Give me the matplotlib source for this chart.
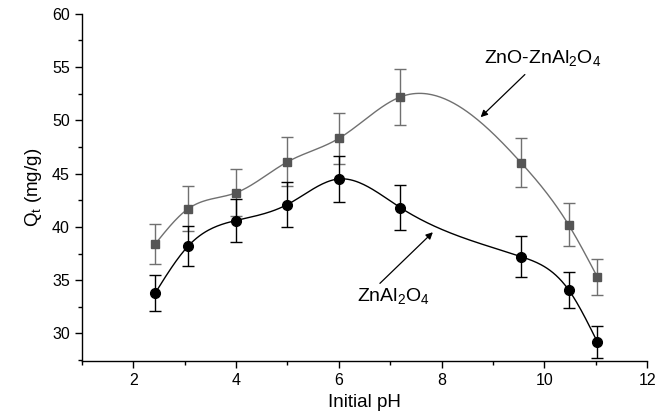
import numpy as np
import matplotlib
matplotlib.use('Agg')
from matplotlib import pyplot as plt

plt.rcParams['font.family'] = ['Liberation Sans', 'DejaVu Sans']
plt.rcParams['mathtext.fontset'] = 'custom'
plt.rcParams['mathtext.rm'] = 'Liberation Sans'
plt.rcParams['mathtext.it'] = 'Liberation Sans'

# data
ph = [2.43, 3.07, 4.0, 5.0, 6.0, 7.2, 9.55, 10.47, 11.03]
q_znal = [33.8, 38.2, 40.6, 42.1, 44.5, 41.8, 37.2, 34.1, 29.2]
err_znal = [1.7, 1.9, 2.0, 2.1, 2.2, 2.1, 1.9, 1.7, 1.5]
q_zno = [38.4, 41.7, 43.2, 46.1, 48.3, 52.2, 46.0, 40.2, 35.3]
err_zno = [1.9, 2.1, 2.2, 2.3, 2.4, 2.6, 2.3, 2.0, 1.7]


def spline(x, y, n=300):
    # natural cubic spline through the points, for the smooth connecting line
    x = np.asarray(x, float); y = np.asarray(y, float)
    h = np.diff(x)
    m = len(x)
    A = np.zeros((m, m)); b = np.zeros(m)
    A[0, 0] = A[-1, -1] = 1
    for i in range(1, m - 1):
        A[i, i-1] = h[i-1]; A[i, i] = 2*(h[i-1]+h[i]); A[i, i+1] = h[i]
        b[i] = 6*((y[i+1]-y[i])/h[i] - (y[i]-y[i-1])/h[i-1])
    M = np.linalg.solve(A, b)
    xs = np.linspace(x[0], x[-1], n)
    idx = np.clip(np.searchsorted(x, xs) - 1, 0, m - 2)
    t0 = x[idx+1] - xs; t1 = xs - x[idx]; hi = h[idx]
    ys = (M[idx]*t0**3 + M[idx+1]*t1**3)/(6*hi) + (y[idx]/hi - M[idx]*hi/6)*t0 + (y[idx+1]/hi - M[idx+1]*hi/6)*t1
    return xs, ys


fig = plt.figure(figsize=(6.7, 4.18), dpi=100)
ax = fig.add_axes([0.122, 0.136, 0.844, 0.831])

xs, ys = spline(ph, q_zno)
ax.plot(xs, ys, color='#707070', lw=1.0)
ax.errorbar(ph, q_zno, yerr=err_zno, fmt='s', color='#555555', ecolor='#707070',
            ms=6, capsize=4, elinewidth=1.0, capthick=1.0)

xs, ys = spline(ph, q_znal)
ax.plot(xs, ys, color='black', lw=1.0)
ax.errorbar(ph, q_znal, yerr=err_znal, fmt='o', color='black', ecolor='black',
            ms=7, capsize=4, elinewidth=1.0, capthick=1.0)

arrow = dict(arrowstyle='-|>', color='black', lw=0.9, shrinkA=0, shrinkB=0)
ax.text(9.97, 54.9, 'ZnO-ZnAl$_2$O$_4$', fontsize=14, ha='center', va='bottom')
ax.annotate('', xy=(8.76, 50.3), xytext=(9.62, 54.3), arrowprops=arrow)
ax.text(7.07, 33.5, 'ZnAl$_2$O$_4$', fontsize=14, ha='center', va='center')
ax.annotate('', xy=(7.83, 39.5), xytext=(6.8, 34.7), arrowprops=arrow)

ax.set_xlim(1, 12)
ax.set_ylim(27.4, 60)
ax.set_xticks([2, 4, 6, 8, 10, 12])
ax.set_xticks(np.arange(1, 13, 1), minor=True)
ax.set_yticks([30, 35, 40, 45, 50, 55, 60])
ax.set_yticks(np.arange(27.5, 60.1, 2.5), minor=True)
ax.tick_params(labelsize=11.5, direction='out', length=5, width=1)
ax.tick_params(which='minor', direction='out', length=3, width=1)
for s in ['top', 'right']:
    ax.spines[s].set_visible(False)
for s in ['left', 'bottom']:
    ax.spines[s].set_linewidth(1.0)

ax.set_xlabel('Initial pH', fontsize=13.5, labelpad=4)
ax.set_ylabel('Q$_\\mathrm{t}$ (mg/g)', fontsize=13.5, labelpad=6)

fig.savefig('out.png', dpi=100)
